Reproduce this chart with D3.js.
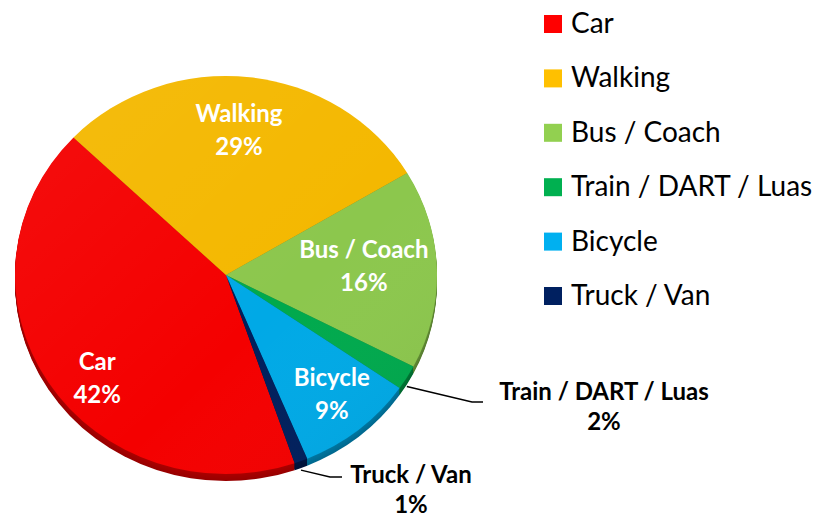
<!DOCTYPE html>
<html>
<head>
<meta charset="utf-8">
<script src="https://cdn.jsdelivr.net/npm/d3@7"></script>
<style>
  body { margin: 0; background: #fff; }
  text { font-family: Lato, "Open Sans", sans-serif; }
</style>
</head>
<body>
<div id="chart"></div>
<script>
// data
const categories = ["Car", "Walking", "Bus / Coach", "Train / DART / Luas", "Bicycle", "Truck / Van"];
const shares = [42, 29, 16, 2, 9, 1];
const colours = ["#ff0000", "#ffc000", "#92d050", "#00b050", "#00b0f0", "#002060"];

// layout
const width = 820, height = 518;
const cx = 226, cy = 275, R = 211, squash = 199 / 211, depth = 7;
const startDeg = 161;
// inside labels: fraction of radius (null = outside label) and angle nudge in degrees
const labelRadius = [0.8, 0.73, 0.655, null, 0.78, null];
const labelNudge = [-7.6, -1.6, -2.3, 0, -1, 0];
// outside labels: text centre / baseline, leader elbow and end
const outside = {
  3: {x: 604, y: 400, elbow: [472, 402], end: [483, 402]},
  5: {x: 411, y: 483, elbow: [330, 477], end: [342, 477]}
};

const svg = d3.select("#chart").append("svg")
  .attr("width", width)
  .attr("height", height);

const pie = d3.pie().sort(null).value(d => d)
  .startAngle(startDeg * Math.PI / 180)
  .endAngle((startDeg + 360) * Math.PI / 180);
const arcs = pie(shares);
const arc = d3.arc().innerRadius(0).outerRadius(R);

const pieG = svg.append("g")
  .attr("transform", `translate(${cx},${cy}) scale(1,${squash})`);

// side of the 3d pie: stacked darker copies
for (let k = depth; k >= 1; k--) {
  pieG.append("g")
    .attr("transform", `translate(0,${k / squash})`)
    .selectAll("path")
    .data(arcs)
    .enter()
    .append("path")
      .attr("d", arc)
      .attr("fill", (d, i) => d3.color(colours[i]).darker(1.1 + 0.05 * k));
}

// top face
pieG.selectAll("path.top")
  .data(arcs)
  .enter()
  .append("path")
    .attr("class", "top")
    .attr("d", arc)
    .attr("fill", (d, i) => d3.color(colours[i]).darker(0.12));

// light shading over top face
const defs = svg.append("defs");
const grad = defs.append("linearGradient").attr("id", "shine")
  .attr("x1", "0").attr("y1", "0").attr("x2", "1").attr("y2", "1");
grad.append("stop").attr("offset", "0%").attr("stop-color", "#fff").attr("stop-opacity", 0.06);
grad.append("stop").attr("offset", "60%").attr("stop-color", "#fff").attr("stop-opacity", 0);
grad.append("stop").attr("offset", "100%").attr("stop-color", "#000").attr("stop-opacity", 0.06);
pieG.append("circle").attr("r", R).attr("fill", "url(#shine)");

// point on the rim for an angle
function rim(a, r) {
  return [cx + r * R * Math.sin(a), cy - r * R * Math.cos(a) * squash];
}

// inside labels
arcs.forEach((d, i) => {
  if (labelRadius[i] == null) return;
  const mid = (d.startAngle + d.endAngle) / 2 + labelNudge[i] * Math.PI / 180;
  const p = rim(mid, labelRadius[i]);
  const t = svg.append("text")
    .attr("text-anchor", "middle")
    .attr("fill", "#fff")
    .style("font-weight", "bold")
    .style("font-size", "24px");
  t.append("tspan").attr("x", p[0]).attr("y", p[1] - 8).text(categories[i]);
  t.append("tspan").attr("x", p[0]).attr("y", p[1] + 25).text(shares[i] + "%");
});

// outside labels with leader lines
arcs.forEach((d, i) => {
  const o = outside[i];
  if (!o) return;
  const mid = (d.startAngle + d.endAngle) / 2;
  const p = rim(mid, 1);
  p[1] += depth + 2;
  svg.append("path")
    .attr("d", d3.line()([p, o.elbow, o.end]))
    .attr("fill", "none")
    .attr("stroke", "#000")
    .attr("stroke-width", 1.3);
  const t = svg.append("text")
    .attr("text-anchor", "middle")
    .attr("fill", "#000")
    .style("font-weight", "bold")
    .style("font-size", "24px");
  t.append("tspan").attr("x", o.x).attr("y", o.y).text(categories[i]);
  t.append("tspan").attr("x", o.x).attr("y", o.y + 30).text(shares[i] + "%");
});

// legend
const ly = d3.scaleLinear().domain([0, categories.length - 1]).range([33, 305]);
const legend = svg.append("g").selectAll("g")
  .data(categories)
  .enter()
  .append("g")
    .attr("transform", (d, i) => `translate(544,${ly(i)})`);
legend.append("rect")
  .attr("x", 0).attr("y", -18)
  .attr("width", 18).attr("height", 18)
  .attr("fill", (d, i) => colours[i]);
legend.append("text")
  .attr("x", 27).attr("y", 0)
  .style("font-size", "28px")
  .attr("fill", "#000")
  .text(d => d);
</script>
</body>
</html>
